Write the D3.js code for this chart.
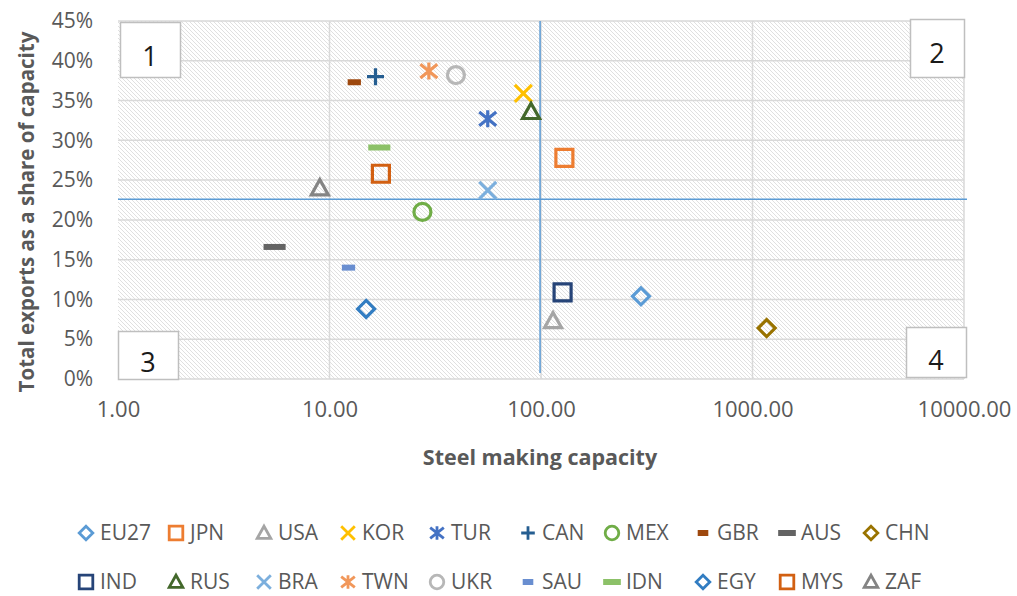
<!DOCTYPE html>
<html>
<head>
<meta charset="utf-8">
<script src="https://cdn.jsdelivr.net/npm/d3@7"></script>
<style>
  body { margin: 0; background: #fff; }
  text { font-family: "Open Sans", sans-serif; }
</style>
</head>
<body>
<div id="chart"></div>
<script>
// DATA
const countries = ["EU27", "JPN", "USA", "KOR", "TUR", "CAN", "MEX", "GBR", "AUS", "CHN",
                   "IND", "RUS", "BRA", "TWN", "UKR", "SAU", "IDN", "EGY", "MYS", "ZAF"];
const capacity = [297, 129, 114, 82.5, 56, 16.5, 27.5, 13.1, 5.5, 1167,
                  126.5, 89.7, 56, 29.5, 39.6, 12.3, 17.2, 14.9, 17.5, 9.0];
const exportShare = [0.104, 0.278, 0.073, 0.359, 0.327, 0.380, 0.210, 0.373, 0.166, 0.064,
                     0.109, 0.336, 0.237, 0.387, 0.382, 0.140, 0.291, 0.088, 0.258, 0.240];
const xTicks = [1, 10, 100, 1000, 10000];
const yTicks = [0, 0.05, 0.10, 0.15, 0.20, 0.25, 0.30, 0.35, 0.40, 0.45];
const quadrants = ["1", "2", "3", "4"];
const refShare = 0.226;      // horizontal reference line
const refCapacity = 99;      // vertical reference line
const refShareRange = [0.0075, 0.45];

// marker styles, by country
const markerStyle = {
  EU27: { shape: "diamond", color: "#5B9BD5" },
  JPN:  { shape: "square", color: "#ED7D31" },
  USA:  { shape: "triangle", color: "#A5A5A5" },
  KOR:  { shape: "x", color: "#FFC000" },
  TUR:  { shape: "star", color: "#4472C4" },
  CAN:  { shape: "plus", color: "#255E91" },
  MEX:  { shape: "circle", color: "#70AD47" },
  GBR:  { shape: "shortdash", color: "#9E480E" },
  AUS:  { shape: "dash", color: "#636363" },
  CHN:  { shape: "diamond", color: "#997300" },
  IND:  { shape: "square", color: "#264478" },
  RUS:  { shape: "triangle", color: "#43682B" },
  BRA:  { shape: "x", color: "#7CAFDD" },
  TWN:  { shape: "star", color: "#F1975A" },
  UKR:  { shape: "circle", color: "#B7B7B7" },
  SAU:  { shape: "shortdash", color: "#698ED0" },
  IDN:  { shape: "dash", color: "#8CC168" },
  EGY:  { shape: "diamond", color: "#327DC2" },
  MYS:  { shape: "square", color: "#D26012" },
  ZAF:  { shape: "triangle", color: "#848484" }
};

const data = countries.map((c, i) => ({ country: c, capacity: capacity[i], share: exportShare[i] }));

// LAYOUT
const outerWidth = 1017;
const outerHeight = 596;
const plot = { left: 118, right: 964, top: 21, bottom: 379 };

const svg = d3.select("#chart").append("svg")
  .attr("width", outerWidth)
  .attr("height", outerHeight);

const x = d3.scaleLog()
  .domain([1, 10000])
  .range([plot.left, plot.right]);

const y = d3.scaleLinear()
  .domain([0, 0.45])
  .range([plot.bottom, plot.top]);

// hatch pattern for the plot area
const defs = svg.append("defs");
const pattern = defs.append("pattern")
  .attr("id", "hatch")
  .attr("patternUnits", "userSpaceOnUse")
  .attr("width", 4)
  .attr("height", 4);
pattern.append("rect").attr("width", 4).attr("height", 4).attr("fill", "#fff");
pattern.append("path")
  .attr("d", "M0,0L4,4M-1,3L1,5M3,-1L5,1")
  .attr("stroke", "#dddddd")
  .attr("stroke-width", 0.9);

svg.append("rect")
  .attr("x", plot.left)
  .attr("y", plot.top)
  .attr("width", plot.right - plot.left)
  .attr("height", plot.bottom - plot.top)
  .attr("fill", "url(#hatch)");

// gridlines
svg.append("g").selectAll("line")
  .data(yTicks)
  .enter().append("line")
  .attr("x1", plot.left).attr("x2", plot.right)
  .attr("y1", d => y(d)).attr("y2", d => y(d))
  .attr("stroke", "#d9d9d9")
  .attr("stroke-width", 1.5);

svg.append("g").selectAll("line")
  .data(xTicks.slice(1))
  .enter().append("line")
  .attr("x1", d => x(d)).attr("x2", d => x(d))
  .attr("y1", plot.top).attr("y2", plot.bottom)
  .attr("stroke", "#d9d9d9")
  .attr("stroke-width", 1.5);

// axes
const yAxis = svg.append("g")
  .attr("transform", `translate(${plot.left},0)`)
  .call(d3.axisLeft(y).tickValues(yTicks).tickFormat(d3.format(".0%")).tickSize(0).tickPadding(25));

const xAxis = svg.append("g")
  .attr("transform", `translate(0,${plot.bottom})`)
  .call(d3.axisBottom(x).tickValues(xTicks).tickFormat(d3.format(".2f")).tickSize(0).tickPadding(22));

yAxis.select(".domain").remove();
xAxis.select(".domain").remove();
yAxis.selectAll("text").attr("fill", "#595959").style("font-size", "21px");
xAxis.selectAll("text").attr("fill", "#595959").style("font-size", "22px");

// reference lines
svg.append("line")
  .attr("x1", x(1)).attr("x2", x(10000) + 3)
  .attr("y1", y(refShare)).attr("y2", y(refShare))
  .attr("stroke", "#5B9BD5")
  .attr("stroke-width", 1.5);

svg.append("line")
  .attr("x1", x(refCapacity)).attr("x2", x(refCapacity))
  .attr("y1", y(refShareRange[1])).attr("y2", y(refShareRange[0]))
  .attr("stroke", "#5B9BD5")
  .attr("stroke-width", 1.5);

// quadrant boxes
const boxes = [
  { x: plot.left + 2, y: plot.top + 1, w: 60, h: 55, base: 44 },
  { x: plot.right - 54, y: plot.top - 2, w: 54, h: 58, base: 44 },
  { x: plot.left, y: plot.bottom - 48, w: 60, h: 48, base: 41 },
  { x: plot.right - 58, y: plot.bottom - 52, w: 60, h: 50, base: 43 }
];

const boxG = svg.append("g").selectAll("g")
  .data(quadrants)
  .enter().append("g")
  .attr("transform", (d, i) => `translate(${boxes[i].x},${boxes[i].y})`);

boxG.append("rect")
  .attr("x", 0.5).attr("y", 0.5)
  .attr("width", (d, i) => boxes[i].w)
  .attr("height", (d, i) => boxes[i].h)
  .attr("fill", "#fff")
  .attr("stroke", "#bfbfbf")
  .attr("stroke-width", 1.5);

boxG.append("text")
  .attr("x", (d, i) => boxes[i].w / 2)
  .attr("y", (d, i) => boxes[i].base)
  .attr("text-anchor", "middle")
  .style("font-size", "27px")
  .attr("fill", "#1a1a1a")
  .text(d => d);

// markers
function markerPath(shape, r) {
  switch (shape) {
    case "diamond": return `M0,${-r}L${r},0L0,${r}L${-r},0Z`;
    case "square": return `M${-r},${-r}H${r}V${r}H${-r}Z`;
    case "triangle": return `M0,${-r}L${r},${r * 0.8}L${-r},${r * 0.8}Z`;
    case "circle": return `M${r},0A${r},${r} 0 1,1 ${-r},0A${r},${r} 0 1,1 ${r},0Z`;
    case "x": return `M${-r},${-r}L${r},${r}M${-r},${r}L${r},${-r}`;
    case "plus": return `M${-r},0H${r}M0,${-r}V${r}`;
    case "star": return `M${-r},${-r * 0.8}L${r},${r * 0.8}M${-r},${r * 0.8}L${r},${-r * 0.8}M0,${-r}V${r}`;
    case "dash": return `M${-r * 1.3},-3H${r * 1.3}V3H${-r * 1.3}Z`;
    case "shortdash": return `M${-r * 0.78},-3H${r * 0.78}V3H${-r * 0.78}Z`;
  }
}

function drawMarker(sel, scale, sw) {
  sel.append("path")
    .attr("d", d => markerPath(markerStyle[d.country].shape, 8.5 * scale))
    .attr("fill", d => {
      const s = markerStyle[d.country].shape;
      return (s === "dash" || s === "shortdash") ? markerStyle[d.country].color : "none";
    })
    .attr("stroke", d => {
      const s = markerStyle[d.country].shape;
      return (s === "dash" || s === "shortdash") ? "none" : markerStyle[d.country].color;
    })
    .attr("stroke-width", sw)
    .attr("stroke-linejoin", "miter");
}

const points = svg.append("g").selectAll("g")
  .data(data)
  .enter().append("g")
  .attr("transform", d => `translate(${x(d.capacity)},${y(d.share)})`);
drawMarker(points, 1, 3.2);

// axis titles
svg.append("text")
  .attr("x", (plot.left + plot.right) / 2 - 1)
  .attr("y", 465)
  .attr("text-anchor", "middle")
  .style("font-size", "21.5px")
  .style("font-weight", "bold")
  .attr("fill", "#595959")
  .text("Steel making capacity");

svg.append("text")
  .attr("transform", "rotate(-90)")
  .attr("x", -212)
  .attr("y", 34)
  .attr("text-anchor", "middle")
  .style("font-size", "20.5px")
  .style("font-weight", "bold")
  .attr("fill", "#595959")
  .text("Total exports as a share of capacity");

// legend
const legendCols = [86, 176, 264, 348, 437, 528, 612, 703, 787, 871];
const legendRows = [533, 582];

const legend = svg.append("g").selectAll("g")
  .data(data)
  .enter().append("g")
  .attr("transform", (d, i) => `translate(${legendCols[i % 10]},${legendRows[Math.floor(i / 10)]})`);
drawMarker(legend, 0.8, 2.8);

legend.append("text")
  .attr("x", 14)
  .attr("dy", "0.35em")
  .style("font-size", "21px")
  .attr("fill", "#595959")
  .text(d => d.country);
</script>
</body>
</html>
